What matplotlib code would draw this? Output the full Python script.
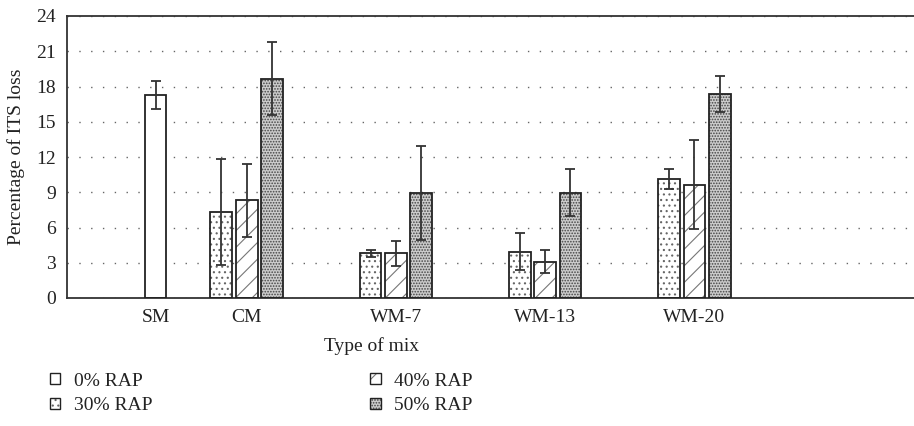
import numpy as np
import matplotlib
matplotlib.use('Agg')
import matplotlib.pyplot as plt
from matplotlib.patches import Patch

plt.rcParams['font.family'] = ['Liberation Serif', 'DejaVu Serif']
plt.rcParams['hatch.linewidth'] = 0.8

mixes = ['SM', 'CM', 'WM-7', 'WM-13', 'WM-20']
series = ['0% RAP', '30% RAP', '40% RAP', '50% RAP']
nan = np.nan

rap_0 = [17.3, nan, nan, nan, nan]
rap_30 = [nan, 7.3, 3.8, 3.95, 10.15]
rap_40 = [nan, 8.3, 3.8, 3.1, 9.65]
rap_50 = [nan, 18.65, 8.95, 8.95, 17.35]

err_0 = [1.2, nan, nan, nan, nan]
err_30 = [nan, 4.5, 0.3, 1.55, 0.85]
err_40 = [nan, 3.1, 1.05, 0.95, 3.8]
err_50 = [nan, 3.1, 4.0, 2.0, 1.55]

values = [rap_0, rap_30, rap_40, rap_50]
errors = [err_0, err_30, err_40, err_50]

# layout: slot of the 0% series for each group (slot units)
group_base = np.array([3.5, 5.1, 11.0, 16.9, 22.8])
bar_w = 0.86
# (face, hatch, hatch colour)
styles = [('white', '', 'black'),
          ('white', '...', '#666666'),
          ('white', '//', '#777777'),
          ('#cccccc', '......', '#444444')]

fig = plt.figure(figsize=(9.14, 4.26), dpi=100)
ax = fig.add_axes([67 / 914, 1 - 298 / 426, 1 - 67 / 914, 282 / 426])

tick_pos = []
for g in range(len(mixes)):
    xs = [group_base[g] + j for j in range(4) if not np.isnan(values[j][g])]
    tick_pos.append(np.mean(xs))

for j in range(4):
    x = group_base + j
    y = np.array(values[j])
    e = np.array(errors[j])
    face, hatch, hcol = styles[j]
    ok = ~np.isnan(y)
    ax.bar(x[ok], y[ok], bar_w, color=face, edgecolor=hcol, linewidth=0,
           hatch=hatch, zorder=2)
    ax.bar(x[ok], y[ok], bar_w, fill=False, edgecolor='#222222',
           linewidth=1.3, zorder=3)
    ax.errorbar(x[ok], y[ok], yerr=e[ok], fmt='none', ecolor='#333333',
                elinewidth=1.3, capsize=3.5, capthick=1.3, zorder=4)

ax.set_xlim(0, (914 - 67) / 25.3)
ax.set_ylim(0, 24)
ax.set_yticks(np.arange(0, 25, 3))
ax.set_xticks(tick_pos)
ax.set_xticklabels(mixes)
ax.tick_params(axis='both', length=0, labelsize=14, colors='#222222')
ax.tick_params(axis='x', pad=8)
ax.tick_params(axis='y', pad=8)

ax.yaxis.grid(True, linestyle=(0, (1, 7.5)), color='#666666', linewidth=1.0)
ax.set_axisbelow(True)

for s in ['left', 'top', 'bottom']:
    ax.spines[s].set_color('#333333')
    ax.spines[s].set_linewidth(1.3)
ax.spines['right'].set_visible(False)

ax.set_ylabel('Percentage of ITS loss', fontsize=14, color='#222222')
ax.yaxis.set_label_coords(-0.0496, 0.5)
ax.set_xlabel('Type of mix', fontsize=14, color='#222222')
ax.xaxis.set_label_coords((371 - 67) / 847, -0.14)

handles = []
for j in range(4):
    face, hatch, hcol = styles[j]
    ph = Patch(facecolor=face, edgecolor=hcol, linewidth=0, hatch=hatch)
    pe = Patch(fill=False, edgecolor='#222222', linewidth=1.0)
    handles.append((ph, pe))

leg = fig.legend(handles, series, ncol=2, loc='upper left',
                 bbox_to_anchor=(32 / 914, 1 - 355 / 426), frameon=False,
                 fontsize=14, handlelength=0.55, handleheight=0.55,
                 handletextpad=0.7, columnspacing=11.2, labelspacing=0.4)
for t in leg.get_texts():
    t.set_color('#222222')

fig.savefig('out.png', dpi=100)
